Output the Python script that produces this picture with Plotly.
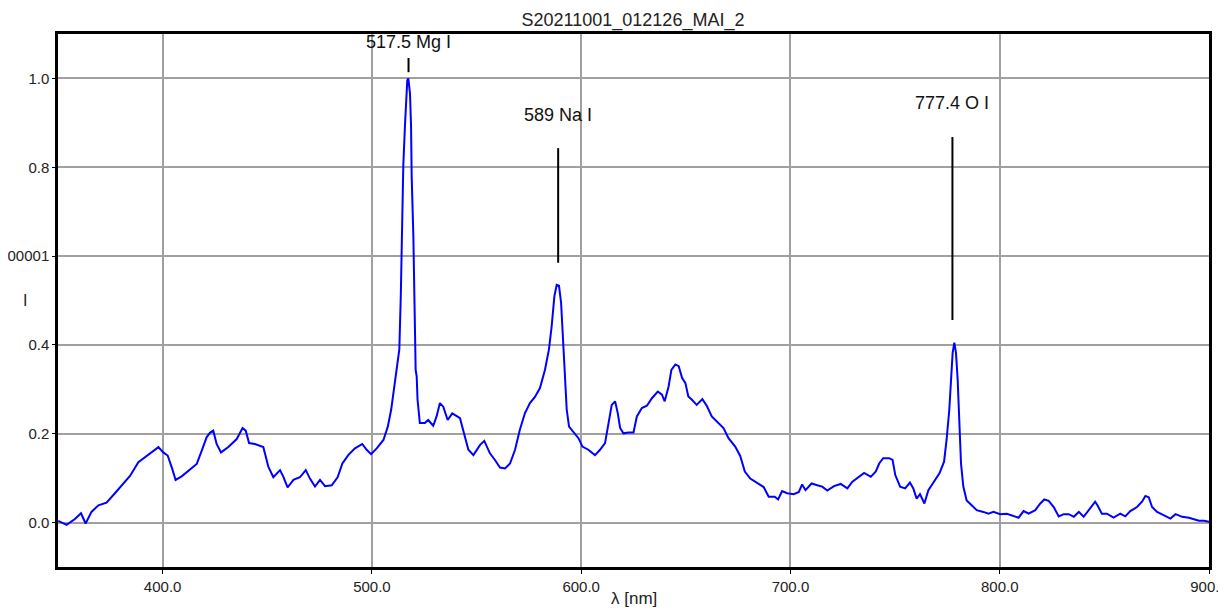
import plotly.graph_objects as go

title_text = "S20211001_012126_MAI_2"

wavelength = [350.1, 354.1, 358.1, 361.0, 363.2, 366.0, 369.3, 373.2, 377.2, 380.4, 384.4, 388.4,
              391.6, 394.8, 398.0, 400.3, 402.4, 404.6, 406.2, 409.1, 412.3, 416.3, 418.7, 421.0,
              422.6, 424.2, 425.8, 427.9, 431.4, 435.4, 438.2, 439.7, 441.3, 444.1, 448.1,
              450.5, 452.9, 456.1, 457.7, 459.7, 462.5, 465.6, 468.4, 470.4, 472.8, 475.2, 477.6,
              480.8, 483.6, 485.9, 488.7, 491.9, 495.4, 497.5, 499.6, 502.3, 505.5, 507.6, 509.2,
              510.3, 511.4, 513.1, 513.8, 514.2, 515.0, 515.8, 516.3, 516.9, 517.4, 518.2, 518.7,
              519.0, 519.8, 520.3, 520.9, 521.4, 521.8, 522.9, 525.3, 526.9, 529.3, 530.9, 532.5,
              534.1, 536.2, 538.4, 540.5, 542.1, 544.0, 546.1, 548.5, 551.7, 553.7, 556.4, 558.8,
              561.2, 563.6, 566.0, 568.4, 570.7, 573.1, 575.5, 577.9, 580.3, 582.7, 584.6, 585.9,
              587.2, 588.3, 589.4, 590.4, 591.2, 592.0, 593.1, 594.2, 596.3, 598.7, 600.6, 603.4,
              606.6, 609.0, 611.4, 613.0, 614.6, 616.2, 617.5, 618.6, 620.2, 622.6, 625.0, 626.6,
              629.0, 631.4, 633.8, 636.6, 638.6, 639.9, 641.8, 643.1, 645.0, 646.6, 648.2, 649.8,
              651.2, 652.8, 655.2, 657.9, 660.0, 662.4, 665.6, 668.0, 670.4, 673.6, 676.0, 678.2,
              680.8, 684.0, 687.2, 689.6, 692.5, 694.1, 696.0, 698.4, 701.6, 704.0, 705.6, 707.2,
              710.1, 712.8, 715.2, 717.6, 720.8, 724.0, 727.2, 729.6, 732.8, 735.2, 738.4, 740.8,
              742.4, 744.3, 747.2, 748.8, 750.1, 752.4, 754.8, 757.1, 758.7, 760.3, 761.9, 764.0,
              765.9, 768.3, 771.2, 773.4, 774.6, 775.9, 776.9, 777.5, 778.3, 779.1, 779.9, 780.7,
              781.5, 782.6, 784.2, 786.6, 789.0, 792.2, 794.6, 797.0, 800.2, 803.4, 806.6, 809.0,
              811.4, 813.8, 817.0, 819.4, 821.3, 823.4, 825.8, 828.2, 830.6, 833.0, 835.4, 837.8,
              840.1, 842.5, 845.6, 846.7, 848.8, 851.2, 854.4, 857.6, 860.0, 862.4, 865.6, 868.0,
              869.6, 871.2, 872.8, 875.2, 878.4, 881.6, 884.0, 887.2, 890.4, 892.8, 895.2, 897.6,
              900.0]

intensity = [0.004, -0.005, 0.008, 0.021, -0.002, 0.024, 0.039, 0.045, 0.066, 0.083, 0.105, 0.136,
             0.148, 0.158, 0.170, 0.158, 0.151, 0.121, 0.096, 0.104, 0.116, 0.132, 0.162, 0.192,
             0.202, 0.207, 0.177, 0.158, 0.170, 0.188, 0.213, 0.207, 0.179, 0.177, 0.170,
             0.126, 0.102, 0.118, 0.103, 0.079, 0.096, 0.102, 0.118, 0.099, 0.081, 0.096, 0.082,
             0.084, 0.102, 0.133, 0.152, 0.167, 0.177, 0.164, 0.154, 0.167, 0.186, 0.216, 0.254,
             0.295, 0.337, 0.390, 0.510, 0.600, 0.804, 0.894, 0.962, 0.996, 1.000, 0.966, 0.894,
             0.780, 0.646, 0.510, 0.344, 0.329, 0.277, 0.224, 0.224, 0.231, 0.218, 0.239, 0.269,
             0.261, 0.231, 0.246, 0.239, 0.235, 0.201, 0.164, 0.152, 0.175, 0.184, 0.156, 0.141,
             0.124, 0.122, 0.133, 0.164, 0.209, 0.246, 0.269, 0.283, 0.303, 0.344, 0.390, 0.442,
             0.510, 0.535, 0.533, 0.495, 0.420, 0.329, 0.254, 0.216, 0.205, 0.190, 0.171, 0.164,
             0.152, 0.164, 0.179, 0.224, 0.265, 0.273, 0.246, 0.213, 0.201, 0.203, 0.203, 0.239,
             0.258, 0.263, 0.280, 0.295, 0.288, 0.273, 0.307, 0.344, 0.356, 0.352, 0.326, 0.314,
             0.284, 0.277, 0.265, 0.278, 0.263, 0.239, 0.225, 0.213, 0.190, 0.171, 0.150, 0.115,
             0.099, 0.089, 0.080, 0.058, 0.058, 0.052, 0.071, 0.066, 0.064, 0.069, 0.086, 0.073,
             0.088, 0.084, 0.081, 0.072, 0.082, 0.087, 0.077, 0.092, 0.103, 0.112, 0.103, 0.115,
             0.133, 0.145, 0.145, 0.141, 0.107, 0.081, 0.077, 0.090, 0.077, 0.054, 0.064, 0.043,
             0.073, 0.090, 0.111, 0.137, 0.186, 0.254, 0.344, 0.382, 0.405, 0.382, 0.322, 0.209,
             0.133, 0.081, 0.050, 0.039, 0.028, 0.024, 0.020, 0.024, 0.019, 0.020, 0.014, 0.011,
             0.026, 0.020, 0.028, 0.043, 0.052, 0.049, 0.035, 0.014, 0.019, 0.019, 0.013, 0.024,
             0.013, 0.028, 0.047, 0.039, 0.020, 0.020, 0.011, 0.020, 0.014, 0.026, 0.035, 0.047,
             0.060, 0.057, 0.035, 0.024, 0.017, 0.009, 0.019, 0.013, 0.011, 0.007, 0.004, 0.004,
             0.002]

line_labels = ["517.5 Mg I", "589 Na I", "777.4 O I"]
line_positions = [517.5, 589.0, 777.4]
label_y = [1.082, 0.918, 0.945]
marker_bottom = [1.014, 0.585, 0.456]
marker_top = [1.046, 0.843, 0.868]

x_tickvals = [400, 500, 600, 700, 800, 900]
x_ticktext = ["400.0", "500.0", "600.0", "700.0", "800.0", "900.0"]
y_tickvals = [0.0, 0.2, 0.4, 0.6, 0.8, 1.0]
y_ticktext = ["0.0", "0.2", "0.4", "00001", "0.8", "1.0"]

fig = go.Figure()
fig.add_trace(go.Scatter(x=wavelength, y=intensity, mode="lines",
                         line=dict(color="#0000ff", width=2), showlegend=False,
                         hoverinfo="x+y"))

font_family = "Liberation Sans, Arial, sans-serif"

annotations = []
shapes = []
for lbl, xp, ly, yb, yt in zip(line_labels, line_positions, label_y, marker_bottom, marker_top):
    annotations.append(dict(x=xp, y=ly, xref="x", yref="y", text=lbl, showarrow=False,
                            xanchor="center", yanchor="middle",
                            font=dict(family=font_family, size=18, color="#111")))
    shapes.append(dict(type="line", xref="x", yref="y", x0=xp, x1=xp, y0=yb, y1=yt,
                       line=dict(color="black", width=2)))

annotations.append(dict(x=-33 / 1151, y=(567 - 300) / 533, xref="paper", yref="paper",
                        text="I", showarrow=False, xanchor="center", yanchor="middle",
                        font=dict(family=font_family, size=16, color="#222")))
annotations.append(dict(x=0.5, y=-(598 - 567) / 533, xref="paper", yref="paper",
                        text="λ [nm]", showarrow=False, xanchor="center", yanchor="middle",
                        font=dict(family=font_family, size=17, color="#222")))

# page has an 8px body margin, so the figure is sized to fit the window exactly
fig.update_layout(
    width=1218, height=607,
    margin=dict(l=50, r=17, t=26, b=48),
    paper_bgcolor="white", plot_bgcolor="white",
    title=dict(text=title_text, x=625 / 1218, xanchor="center",
               y=1 - 12 / 607, yanchor="middle", yref="container",
               font=dict(family=font_family, size=18, color="#222")),
    annotations=annotations,
    shapes=shapes,
    xaxis=dict(range=[350, 900], tickvals=x_tickvals, ticktext=x_ticktext,
               showgrid=True, gridcolor="#a0a0a0", gridwidth=1.5,
               showline=True, linecolor="black", linewidth=2.5, mirror=True,
               ticks="outside", ticklen=4, tickcolor="black",
               ticklabeloverflow="allow",
               tickfont=dict(family=font_family, size=15, color="#222"),
               zeroline=False, automargin=False),
    yaxis=dict(range=[-0.1, 1.1], tickvals=y_tickvals, ticktext=y_ticktext,
               showgrid=True, gridcolor="#a0a0a0", gridwidth=1.5,
               showline=True, linecolor="black", linewidth=2.5, mirror=True,
               ticks="outside", ticklen=3, tickcolor="black",
               ticklabeloverflow="allow",
               tickfont=dict(family=font_family, size=15, color="#222"),
               zeroline=False, automargin=False),
)

fig.write_html("out.html")
